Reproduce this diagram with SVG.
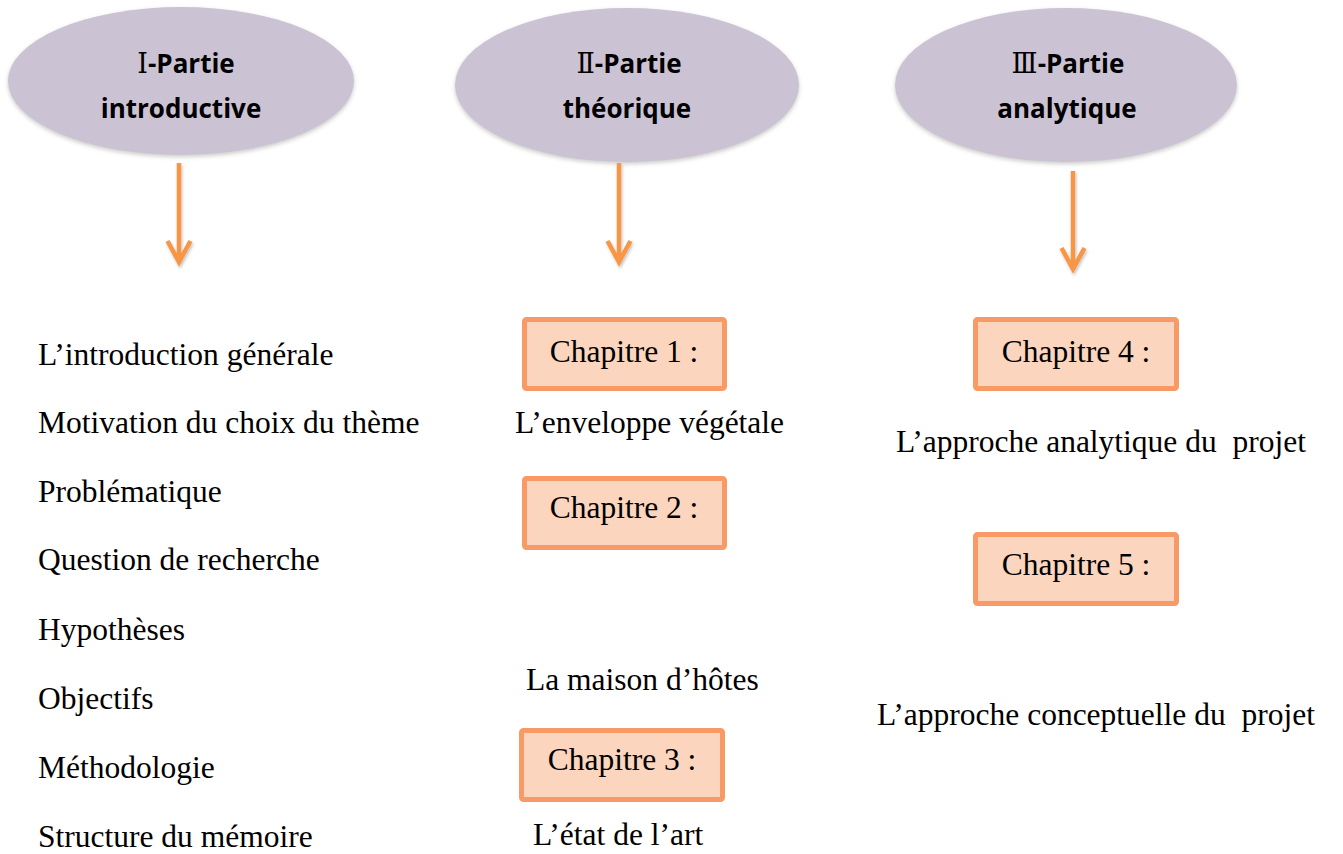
<svg xmlns="http://www.w3.org/2000/svg" width="1343" height="854" viewBox="0 0 1343 854">
<defs>
<filter id="sh" x="-10%" y="-10%" width="120%" height="130%">
<feDropShadow dx="0" dy="2" stdDeviation="2" flood-color="#8a9080" flood-opacity="0.45"/>
</filter>
<filter id="ash" x="-50%" y="-10%" width="200%" height="130%">
<feDropShadow dx="1" dy="2" stdDeviation="1.5" flood-color="#000" flood-opacity="0.25"/>
</filter>
<style>
.ell{fill:#CBC3D4;filter:url(#sh)}
.ht{font-family:"Open Sans","Liberation Sans",sans-serif;font-weight:bold;font-size:26px;fill:#000;text-anchor:middle}
.rn{font-family:"DejaVu Serif","Liberation Serif","Noto Sans CJK JP",serif;font-weight:normal;font-size:27px}
.box{fill:#FCD5BE;stroke:#F79A66;stroke-width:5}
.t{font-family:"Liberation Serif","Times New Roman",serif;font-size:31.5px;fill:#000}
.arr{stroke:#F79646;stroke-width:4.5;fill:none;filter:url(#ash)}
</style>
</defs>

<g id="partie1">
<ellipse class="ell" cx="181" cy="81" rx="173" ry="74"/>
<text class="ht" x="186" y="73"><tspan class="rn">Ⅰ</tspan>-Partie</text>
<text class="ht" x="181" y="118">introductive</text>
</g>
<g id="partie2">
<ellipse class="ell" cx="627" cy="85" rx="172" ry="77"/>
<text class="ht" x="629" y="73"><tspan class="rn">Ⅱ</tspan>-Partie</text>
<text class="ht" x="627" y="118">théorique</text>
</g>
<g id="partie3">
<ellipse class="ell" cx="1066" cy="85" rx="171" ry="77"/>
<text class="ht" x="1068" y="73"><tspan class="rn">Ⅲ</tspan>-Partie</text>
<text class="ht" x="1067" y="118">analytique</text>
</g>

<g id="connectors">
<path class="arr" d="M179,163 V262 M167.5,241 L179,262 L190.5,241"/>
<path class="arr" d="M619,163 V262 M607.5,241 L619,262 L630.5,241"/>
<path class="arr" d="M1073,171 V269 M1061.5,248 L1073,269 L1084.5,248"/>
</g>

<g id="intro-list">
<text class="t" x="38" y="365">L’introduction générale</text>
<text class="t" x="38" y="433">Motivation du choix du thème</text>
<text class="t" x="38" y="502">Problématique</text>
<text class="t" x="38" y="570">Question de recherche</text>
<text class="t" x="38" y="640">Hypothèses</text>
<text class="t" x="38" y="709">Objectifs</text>
<text class="t" x="38" y="778">Méthodologie</text>
<text class="t" x="38" y="847">Structure du mémoire</text>
</g>

<g id="chapitre1">
<rect class="box" x="524.5" y="319.5" width="200" height="69" rx="2"/>
<text class="t" x="624" y="362" text-anchor="middle">Chapitre 1 :</text>
</g>
<g id="chap1-title"><text class="t" x="515" y="433">L’enveloppe végétale</text></g>
<g id="chapitre2">
<rect class="box" x="524.5" y="478.5" width="200" height="69" rx="2"/>
<text class="t" x="624" y="518" text-anchor="middle">Chapitre 2 :</text>
</g>
<g id="chap2-title"><text class="t" x="526" y="690">La maison d’hôtes</text></g>
<g id="chapitre3">
<rect class="box" x="521.5" y="730.5" width="201" height="69" rx="2"/>
<text class="t" x="622" y="770" text-anchor="middle">Chapitre 3 :</text>
</g>
<g id="chap3-title"><text class="t" x="533" y="845">L’état de l’art</text></g>

<g id="chapitre4">
<rect class="box" x="975.5" y="319.5" width="201" height="69" rx="2"/>
<text class="t" x="1076" y="362" text-anchor="middle">Chapitre 4 :</text>
</g>
<g id="chap4-title"><text class="t" x="896" y="452" xml:space="preserve">L’approche analytique du  projet</text></g>
<g id="chapitre5">
<rect class="box" x="975.5" y="534.5" width="201" height="69" rx="2"/>
<text class="t" x="1076" y="575" text-anchor="middle">Chapitre 5 :</text>
</g>
<g id="chap5-title"><text class="t" x="877" y="725" xml:space="preserve">L’approche conceptuelle du  projet</text></g>
</svg>
